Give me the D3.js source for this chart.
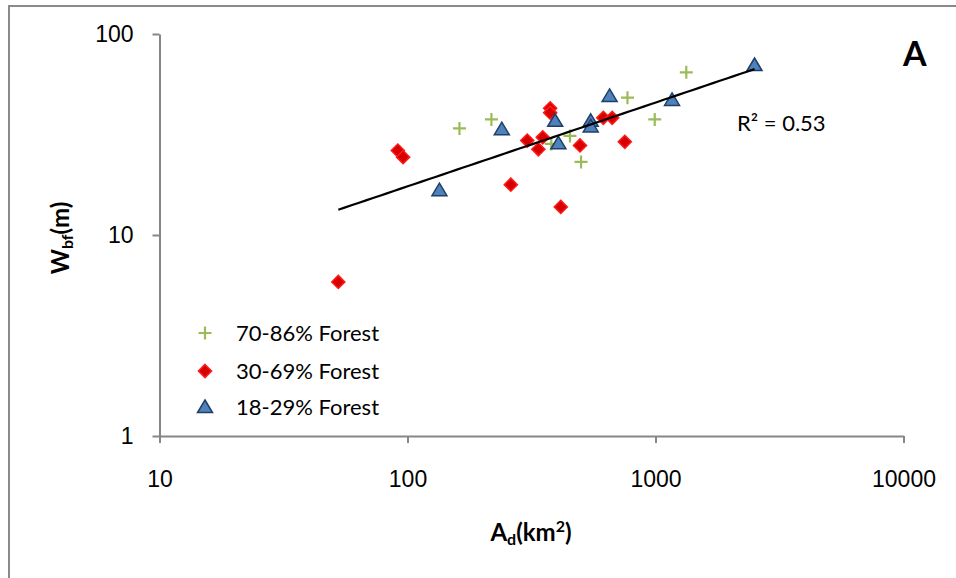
<!DOCTYPE html>
<html>
<head>
<meta charset="utf-8">
<script src="https://cdn.jsdelivr.net/npm/d3@7"></script>
<style>
  body { margin: 0; background: #fff; }
  svg { display: block; font-family: Lato, "Liberation Sans", sans-serif; }
  .axis path, .axis line { stroke: #868686; stroke-width: 2; }
  .axis text { font-size: 23px; fill: #000; }
</style>
</head>
<body>
<svg id="chart"></svg>
<script>
// Data (drainage area km², bankfull width m)

    const forestHighArea  = [162, 218, 452, 380, 501, 771, 993, 1331];
    const forestHighWidth = [33.9, 37.6, 31.1, 28.4, 23.1, 48.2, 37.6, 64.5];

    const forestMidArea  = [52.6, 91.4, 96, 376, 376, 304, 351, 337, 496, 616, 669, 752, 261, 415];
    const forestMidWidth = [5.84, 26.3, 24.4, 42.7, 40.6, 29.5, 30.6, 26.7, 27.9, 38.3, 38.3, 29.1, 17.8, 13.8];

    const forestLowArea  = [134.5, 240, 394, 406, 548, 548, 653, 1166, 2508];
    const forestLowWidth = [16.7, 33.6, 37.0, 28.6, 37.0, 34.7, 49.2, 47.0, 70.1];

    const seriesNames = ['70-86% Forest', '30-69% Forest', '18-29% Forest'];
    const xTicks = [10, 100, 1000, 10000];
    const yTicks = [1, 10, 100];
    const r2Label = 'R\u00B2 = 0.53';
    const panelLabel = 'A';

// 1. SVG canvas

    const width = 956;
    const height = 578;

    const plot = { left: 159.5, right: 903.5, top: 34, bottom: 436 };

    const svg = d3.select('#chart')
        .attr('width', width)
        .attr('height', height);

    // outer chart border (only left and top show in the frame)
    svg.append('rect')
        .attr('x', 9)
        .attr('y', 6)
        .attr('width', width + 20)
        .attr('height', height + 20)
        .attr('fill', 'none')
        .attr('stroke', '#8a8a8a')
        .attr('stroke-width', 2);

// 2. Scales

    const xScale = d3.scaleLog()
        .domain([10, 10000])
        .range([plot.left, plot.right]);

    const yScale = d3.scaleLog()
        .domain([1, 100])
        .range([plot.bottom, plot.top]);

// 3. Axes

    svg.append('g')
        .attr('class', 'axis x-axis')
        .attr('transform', 'translate(0,' + plot.bottom + ')')
        .call(d3.axisBottom(xScale)
            .tickValues(xTicks)
            .tickFormat(d3.format('d'))
            .tickSize(7)
            .tickSizeOuter(0)
            .tickPadding(28));

    svg.append('g')
        .attr('class', 'axis y-axis')
        .attr('transform', 'translate(' + plot.left + ',0)')
        .call(d3.axisLeft(yScale)
            .tickValues(yTicks)
            .tickFormat(d3.format('d'))
            .tickSize(7)
            .tickSizeOuter(0)
            .tickPadding(19));

    svg.selectAll('.axis text').attr('font-family', null).attr('font-size', null);

// 4. Markers

    function zip(xs, ys) { return xs.map((x, i) => ({ area: x, width: ys[i] })); }

    const plusPath = 'M-6.5,0H6.5M0,-6.5V6.5';
    const diamond = d3.symbol().type(d3.symbolDiamond2).size(110)();
    const triangle = 'M0,-7L7.5,5.5L-7.5,5.5Z';

    function drawPlus(sel) {
        sel.attr('d', plusPath)
            .attr('fill', 'none')
            .attr('stroke', '#9bbb59')
            .attr('stroke-width', 2.2);
    }
    function drawDiamond(sel) {
        sel.attr('d', diamond)
            .attr('fill', '#d60000')
            .attr('stroke', '#ff1a1a')
            .attr('stroke-width', 1.5);
    }
    function drawTriangle(sel) {
        sel.attr('d', triangle)
            .attr('fill', '#4f81bd')
            .attr('stroke', '#1f3f66')
            .attr('stroke-width', 1.5);
    }

    const pos = d => 'translate(' + xScale(d.area) + ',' + yScale(d.width) + ')';

    svg.selectAll('.pt-high')
        .data(zip(forestHighArea, forestHighWidth))
        .enter().append('path')
        .attr('class', 'pt-high')
        .attr('transform', pos)
        .call(drawPlus);

    svg.selectAll('.pt-mid')
        .data(zip(forestMidArea, forestMidWidth))
        .enter().append('path')
        .attr('class', 'pt-mid')
        .attr('transform', pos)
        .call(drawDiamond);

    svg.selectAll('.pt-low')
        .data(zip(forestLowArea, forestLowWidth))
        .enter().append('path')
        .attr('class', 'pt-low')
        .attr('transform', pos)
        .call(drawTriangle);

// 5. Power trendline fitted on all points (log-log least squares)

    const allPts = zip(forestHighArea, forestHighWidth)
        .concat(zip(forestMidArea, forestMidWidth), zip(forestLowArea, forestLowWidth));
    const lx = allPts.map(d => Math.log10(d.area));
    const ly = allPts.map(d => Math.log10(d.width));
    const mx = d3.mean(lx), my = d3.mean(ly);
    const slope = d3.sum(lx, (v, i) => (v - mx) * (ly[i] - my)) / d3.sum(lx, v => (v - mx) * (v - mx));
    const intercept = my - slope * mx;

    const [aMin, aMax] = d3.extent(allPts, d => d.area);
    const trend = d3.range(0, 61).map(i => {
        const a = Math.pow(10, Math.log10(aMin) + i / 60 * (Math.log10(aMax) - Math.log10(aMin)));
        return { area: a, width: Math.pow(10, intercept) * Math.pow(a, slope) };
    });

    svg.append('path')
        .datum(trend)
        .attr('fill', 'none')
        .attr('stroke', '#000')
        .attr('stroke-width', 2.2)
        .attr('d', d3.line().x(d => xScale(d.area)).y(d => yScale(d.width)));

    svg.append('text')
        .attr('x', 737)
        .attr('y', 131)
        .attr('font-size', 22)
        .text(r2Label);

// 6. Legend

    const legend = svg.append('g').attr('transform', 'translate(205,0)');
    const legendY = [333, 371, 407];
    const legendDraw = [drawPlus, drawDiamond, drawTriangle];

    seriesNames.forEach((name, i) => {
        legend.append('path')
            .attr('transform', 'translate(0,' + legendY[i] + ')')
            .call(legendDraw[i]);
        legend.append('text')
            .attr('x', 31)
            .attr('y', legendY[i])
            .attr('dy', '0.36em')
            .attr('font-size', 22)
            .text(name);
    });

// 7. Titles

    const xTitle = svg.append('text')
        .attr('x', 531)
        .attr('y', 541)
        .attr('text-anchor', 'middle')
        .attr('font-size', 24)
        .attr('font-weight', 'bold');
    xTitle.append('tspan').text('A');
    xTitle.append('tspan').attr('font-size', 16).attr('dy', 4).text('d');
    xTitle.append('tspan').attr('dy', -4).text('(km');
    xTitle.append('tspan').attr('font-size', 16).attr('dy', -9).text('2');
    xTitle.append('tspan').attr('dy', 9).text(')');

    const yTitle = svg.append('text')
        .attr('transform', 'translate(69,238) rotate(-90)')
        .attr('text-anchor', 'middle')
        .attr('font-size', 24)
        .attr('font-weight', 'bold');
    yTitle.append('tspan').text('W');
    yTitle.append('tspan').attr('font-size', 16).attr('dy', 4).text('bf');
    yTitle.append('tspan').attr('dy', -4).text('(m)');

    svg.append('text')
        .attr('x', 903)
        .attr('y', 66)
        .attr('font-size', 34)
        .attr('font-weight', 'bold')
        .text(panelLabel);
</script>
</body>
</html>
